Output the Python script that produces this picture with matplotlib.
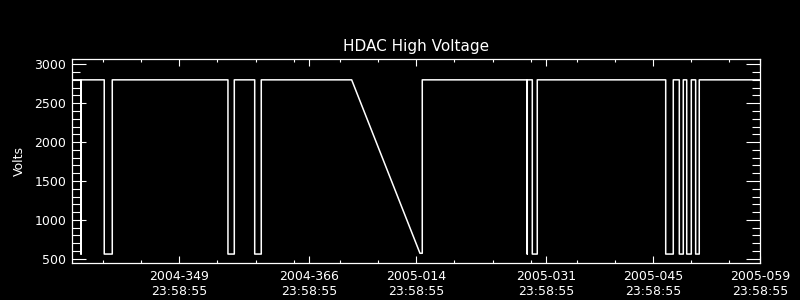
import matplotlib
matplotlib.use('Agg')
import matplotlib.pyplot as plt

# days since 2004-349 23:58:55
days = [-14.1, -12.86, -12.86, -12.86,
        -9.82, -9.82, -8.77, -8.77,
        6.37, 6.37, 7.20, 7.20,
        9.87, 9.87, 10.73, 10.73,
        22.56, 31.5, 31.8, 31.8,
        45.54, 45.54, 45.54,
        46.20, 46.20, 46.85, 46.85,
        63.66, 63.66, 64.65, 64.65,
        65.44, 65.44, 65.96, 65.96,
        66.41, 66.41, 67.01, 67.01,
        67.58, 67.58, 68.05, 68.05,
        76.0]
volts = [2800, 2800, 560, 2800,
         2800, 560, 560, 2800,
         2800, 560, 560, 2800,
         2800, 560, 560, 2800,
         2800, 570, 570, 2800,
         2800, 560, 2800,
         2800, 560, 560, 2800,
         2800, 560, 560, 2800,
         2800, 560, 560, 2800,
         2800, 560, 560, 2800,
         2800, 560, 560, 2800,
         2800]

major_days = [0, 17, 31, 48, 62, 76]
major_labels = ['2004-349\n23:58:55', '2004-366\n23:58:55', '2005-014\n23:58:55',
                '2005-031\n23:58:55', '2005-045\n23:58:55', '2005-059\n23:58:55']
minor_days = [-10, -5, 5, 10, 15, 21, 26, 36, 41, 46, 52, 57, 67, 72]

fig = plt.figure(figsize=(8, 3), dpi=100, facecolor='black')
ax = fig.add_axes([0.09, 0.1223, 0.86, 0.68])
ax.set_facecolor('black')

ax.plot(days, volts, color='white', lw=1.1)

ax.set_xlim(-14.04, 76)
ax.set_ylim(441, 3064)
ax.set_xticks(major_days)
ax.set_xticklabels(major_labels, linespacing=1.15)
ax.set_xticks(minor_days, minor=True)
ax.set_yticks(range(500, 3001, 500))
ax.set_yticks(range(600, 3000, 100), minor=True)

ax.tick_params(axis='x', which='major', direction='in', length=5, width=0.8,
               colors='white', top=True, labelsize=9, pad=5)
ax.tick_params(axis='x', which='minor', direction='in', length=2.5, width=0.8,
               colors='white', top=True)
ax.tick_params(axis='y', which='major', direction='in', length=10, width=0.8,
               colors='white', right=True, labelsize=9, pad=4)
ax.tick_params(axis='y', which='minor', direction='in', length=5.5, width=0.8,
               colors='white', right=True)
for s in ax.spines.values():
    s.set_color('white')
    s.set_linewidth(0.9)

ax.set_title('HDAC High Voltage', color='white', fontsize=11, pad=6)
ax.set_ylabel('Volts', color='white', fontsize=9, labelpad=6)

fig.savefig('out.png', dpi=100, facecolor='black')
